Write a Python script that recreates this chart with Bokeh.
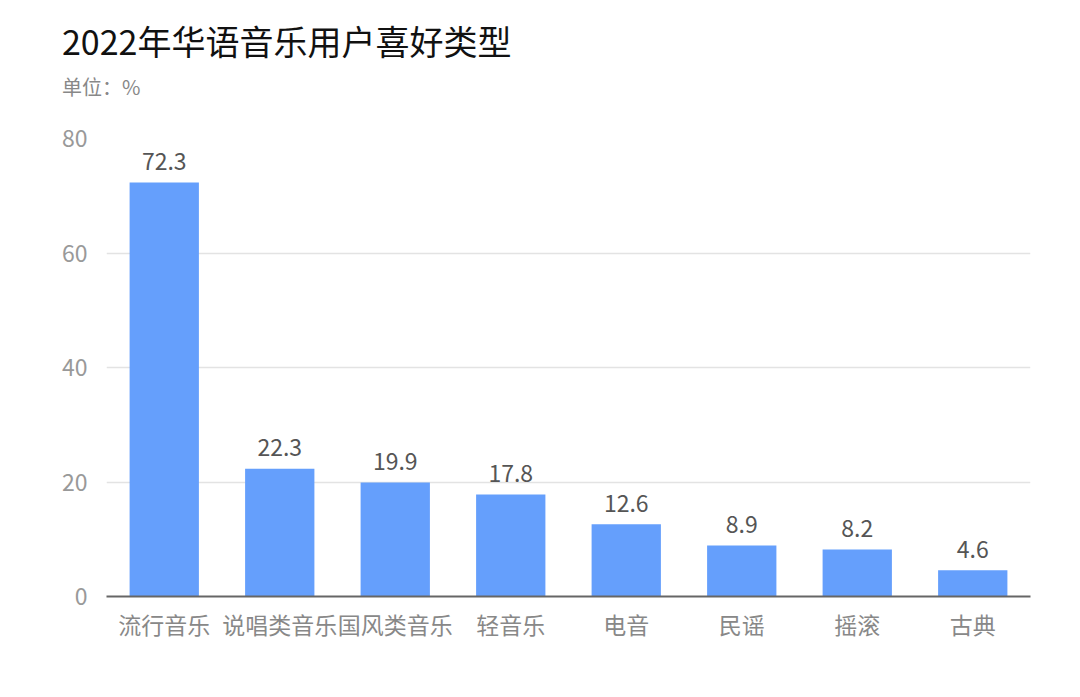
from bokeh.plotting import figure
from bokeh.models import ColumnDataSource, LabelSet, FixedTicker, Div
from bokeh.layouts import column
from bokeh.core.properties import value
from bokeh.embed import file_html
from bokeh.resources import INLINE

categories = ["流行音乐", "说唱类音乐", "国风类音乐", "轻音乐", "电音", "民谣", "摇滚", "古典"]
values = [72.3, 22.3, 19.9, 17.8, 12.6, 8.9, 8.2, 4.6]
y_ticks = [0, 20, 40, 60, 80]
title_text = "2022年华语音乐用户喜好类型"
subtitle_text = "单位：%"

FONT = "Noto Sans CJK SC"

src = ColumnDataSource(dict(cat=categories, val=values, lab=[f"{v:.1f}" for v in values]))

HEADER_H = 110

header = Div(
    text=(f'<div style="font-size:34px;line-height:34px;color:#111111;margin:24px 0 0 62px;white-space:nowrap">{title_text}</div>'
          f'<div style="font-size:20px;line-height:20px;color:#888888;margin:19px 0 0 62px;white-space:nowrap">{subtitle_text}</div>'),
    width=1064, height=HEADER_H,
    styles={"font-family": f"'{FONT}'", "margin": "0", "padding": "0"},
)

p = figure(x_range=categories, y_range=(0, 80), width=1064, height=681 - HEADER_H,
           output_backend="svg", toolbar_location=None,
           min_border_left=106, min_border_right=34, min_border_bottom=85,
           min_border_top=138 - HEADER_H)

p.vbar(x="cat", top="val", width=0.6, source=src, color="#659ffc", line_color=None)

labels = LabelSet(x="cat", y="val", text="lab", source=src, text_align="center",
                  text_baseline="middle", y_offset=21, text_font=value(FONT),
                  text_font_size="23px", text_color="#555555")
p.add_layout(labels)

p.outline_line_color = None
p.background_fill_color = "white"
p.border_fill_color = "white"

p.xgrid.grid_line_color = None
p.ygrid.grid_line_color = "#e3e3e3"
p.ygrid.grid_line_width = 1.5
p.yaxis.ticker = FixedTicker(ticks=y_ticks)

p.yaxis.axis_line_color = None
p.yaxis.major_tick_line_color = None
p.yaxis.minor_tick_line_color = None
p.yaxis.major_label_text_font = FONT
p.yaxis.major_label_text_font_size = "23px"
p.yaxis.major_label_text_color = "#999999"
p.yaxis.major_label_standoff = 13

p.xaxis.axis_line_color = "#666666"
p.xaxis.axis_line_width = 2
p.xaxis.major_tick_line_color = None
p.xaxis.minor_tick_line_color = None
p.xaxis.major_label_text_font = FONT
p.xaxis.major_label_text_font_size = "23px"
p.xaxis.major_label_text_color = "#888888"
p.xaxis.major_label_standoff = 4

layout = column(header, p, spacing=0)

open("out.html", "w").write(file_html(layout, INLINE))
